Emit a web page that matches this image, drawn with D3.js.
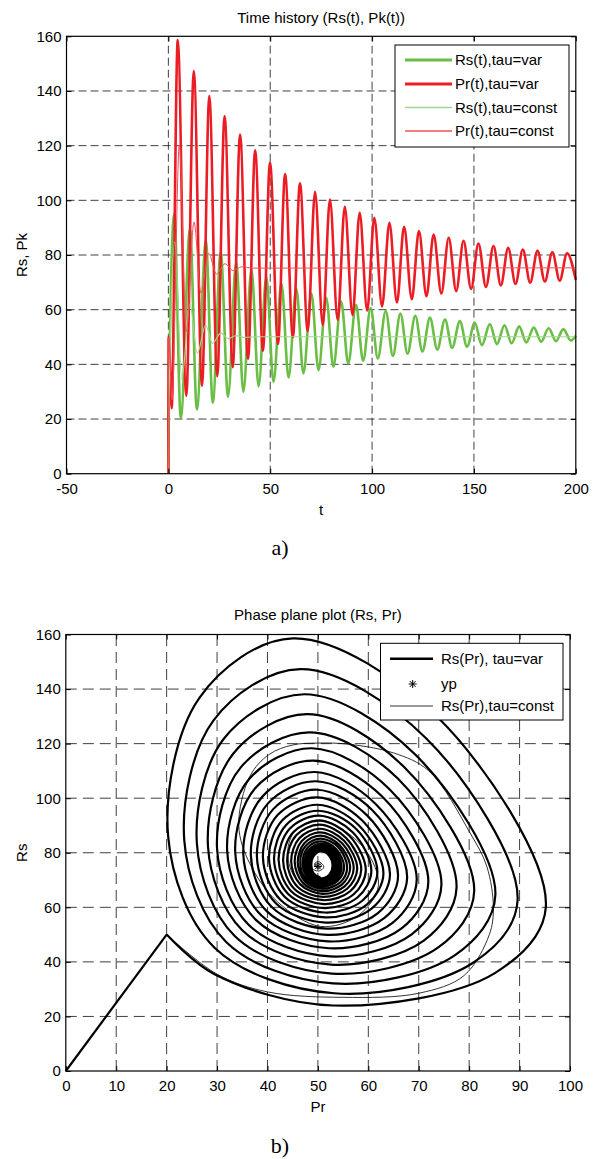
<!DOCTYPE html>
<html>
<head>
<meta charset="utf-8">
<script src="https://cdn.jsdelivr.net/npm/d3@7"></script>
<style>
body { margin: 0; background: #fff; }
</style>
</head>
<body>
<svg id="drawing_region" width="604" height="1159"></svg>
<script>
// ---------------- data ----------------
// a) time history, tau = var : one entry per oscillation cycle
var prTroughT = [1.6, 8.8, 16.5, 24.0, 31.6, 39.1, 46.4, 53.8, 61.1, 68.4, 75.8, 83.1, 90.4, 97.6, 104.9, 112.2, 119.5, 126.7, 134.0, 141.3, 148.6, 155.9, 163.2, 170.4, 177.6, 184.8, 192.1];
var prTroughV = [24.0, 28.5, 32.1, 35.7, 39.0, 42.0, 45.0, 47.5, 49.9, 52.2, 54.4, 56.3, 58.1, 59.7, 61.2, 62.6, 63.8, 64.9, 65.9, 66.8, 67.6, 68.3, 68.9, 69.4, 69.9, 70.3, 70.6];
var prPeakT = [4.6, 12.5, 20.1, 27.6, 35.2, 42.6, 49.9, 57.3, 64.6, 72.0, 79.3, 86.6, 93.9, 101.1, 108.5, 115.7, 123.0, 130.2, 137.6, 144.9, 152.2, 159.6, 166.8, 174.0, 181.2, 188.5, 195.7];
var prPeakV = [158.6, 147.3, 138.1, 130.8, 124.1, 118.3, 113.8, 109.6, 106.2, 103.1, 100.3, 97.6, 95.4, 93.6, 91.8, 90.3, 88.8, 87.5, 86.3, 85.2, 84.2, 83.3, 82.6, 82.0, 81.5, 81.0, 80.6];
var rsPeakT = [2.9, 10.6, 18.4, 25.7, 33.3, 40.8, 48.1, 55.5, 62.8, 70.2, 77.5, 84.8, 92.1, 99.3, 106.7, 113.9, 121.2, 128.4, 135.8, 143.1, 150.4, 157.8, 165.0, 172.2, 179.4, 186.7, 193.9];
var rsPeakV = [95.2, 89.6, 85.2, 81.0, 77.5, 74.5, 71.9, 69.6, 67.7, 65.9, 64.3, 63.0, 61.8, 60.6, 59.5, 58.6, 57.8, 57.1, 56.4, 55.8, 55.2, 54.7, 54.3, 53.9, 53.5, 53.2, 52.9];
var rsTroughT = [6.1, 14.0, 21.8, 29.3, 36.8, 44.3, 51.6, 59.0, 66.3, 73.7, 81.0, 88.3, 95.6, 102.8, 110.2, 117.4, 124.7, 132.0, 139.3, 146.6, 153.9, 161.3, 168.5, 175.7, 183.0, 190.3, 197.5];
var rsTroughV = [20.3, 23.5, 26.0, 28.2, 30.0, 32.0, 33.6, 35.2, 36.7, 37.9, 39.1, 40.3, 41.3, 42.2, 43.1, 43.9, 44.7, 45.4, 46.0, 46.5, 47.0, 47.4, 47.7, 48.0, 48.3, 48.5, 48.7];
// start jump and end of the var runs
var rsVarEdgeT = [0, 0.15, 200];
var rsVarEdgeV = [0, 20, 50.5];
var prVarEdgeT = [0, 0.15, 200];
var prVarEdgeV = [0, 50, 70.9];

// a) time history, tau = const
var rsConstT = [0, 0.15, 3.2, 6.6, 10.6, 14.2, 18.3, 21.6, 25.8, 29.3, 33.2, 37, 45, 200];
var rsConstV = [0, 20, 84.8, 34.6, 62, 44, 54.4, 47.7, 51.4, 49.4, 50.5, 49.9, 50.1, 50.1];
var prConstT = [0, 0.15, 1.8, 5.4, 8.8, 12.6, 16, 19.8, 23.6, 27.8, 31.8, 36, 41, 200];
var prConstV = [0, 50, 27, 120.2, 52, 92, 66, 80.6, 73, 76.8, 74.3, 75.7, 75.2, 75.3];

// b) phase plane, tau = var (x on "Pr" axis, y on "Rs" axis), per loop
var leadX = [29.5];
var leadY = [35.5];
var rsAtPrTrough = [53, 53.2, 53, 52.8, 52.6, 52.4, 52.2, 52, 51.8, 51.7, 51.6, 51.5, 51.4, 51.3, 51.2, 51.1, 51, 50.95, 50.9, 50.85, 50.8, 50.8, 50.75, 50.7, 50.7, 50.7, 50.7];
var prAtRsPeak = [60, 62.5, 64.5, 66, 67.3, 68.4, 69.4, 70.2, 70.9, 71.5, 72, 72.5, 72.9, 73.3, 73.6, 73.9, 74.1, 74.3, 74.5, 74.7, 74.8, 74.9, 75, 75.1, 75.2, 75.2, 75.3];
var rsAtPrPeak = [45, 46.5, 47.3, 47.9, 48.4, 48.8, 49.1, 49.4, 49.6, 49.8, 49.9, 50, 50.1, 50.2, 50.3, 50.3, 50.4, 50.4, 50.5, 50.5, 50.5, 50.6, 50.6, 50.6, 50.7, 50.7, 50.7];
var prAtRsTrough = [86, 84.5, 83.3, 82.3, 81.5, 80.8, 80.2, 79.6, 79.1, 78.7, 78.3, 78, 77.7, 77.4, 77.2, 77, 76.8, 76.6, 76.5, 76.4, 76.2, 76.1, 76, 75.9, 75.8, 75.8, 75.7];
var brX = [85.1, 80.7, 77.2, 73.8, 71.0, 68.6, 66.6, 64.8, 63.2, 61.9, 60.7, 59.7, 58.8, 57.9, 57.1, 56.4, 55.8, 55.3, 54.8, 54.4, 53.9, 53.6, 53.3, 53.0, 52.7, 52.5, 52.3];
var brY = [35.9, 39.6, 42.5, 45.2, 47.8, 50.1, 52.3, 54.3, 56.1, 57.9, 59.6, 61.0, 62.4, 63.7, 64.8, 65.9, 66.8, 67.7, 68.4, 69.1, 69.7, 70.2, 70.7, 71.1, 71.5, 71.7, 72.0];
var rtX = [74.1, 71.5, 69.3, 67.1, 65.9, 64.2, 62.8, 61.5, 60.8, 59.8, 58.8, 58.1, 57.6, 56.9, 56.2, 55.6, 55.2, 54.8, 54.3, 54.0, 53.6, 53.3, 53.0, 52.8, 52.5, 52.4, 52.2];
var rtY = [129.0, 121.9, 116.0, 111.4, 107.1, 103.3, 100.5, 97.8, 95.6, 93.6, 91.8, 90.1, 88.7, 87.5, 86.3, 85.4, 84.4, 83.5, 82.8, 82.1, 81.4, 80.8, 80.3, 79.9, 79.6, 79.3, 79.0];
var tlX = [26.5, 29.3, 31.3, 33.2, 34.7, 36.4, 37.6, 39.0, 40.1, 41.1, 42.0, 42.9, 43.7, 44.4, 45.1, 45.7, 46.3, 46.8, 47.3, 47.6, 48.0, 48.3, 48.5, 48.7, 49.0, 49.1, 49.3];
var tlY = [136.8, 128.5, 121.7, 116.3, 111.3, 107.1, 103.7, 100.6, 98.1, 95.9, 93.8, 91.8, 90.2, 88.8, 87.5, 86.4, 85.3, 84.3, 83.5, 82.6, 81.9, 81.2, 80.7, 80.2, 79.8, 79.5, 79.2];
var lbX = [29.5, 31.8, 33.5, 35.0, 36.3, 37.7, 38.8, 39.9, 40.9, 41.7, 42.6, 43.4, 44.1, 44.7, 45.3, 45.9, 46.5, 47.0, 47.4, 47.7, 48.1, 48.3, 48.5, 48.8, 49.0, 49.1, 49.2];
var lbY = [45.2, 47.3, 49.5, 51.6, 53.5, 55.4, 57.0, 58.5, 60.0, 61.4, 62.7, 63.9, 64.9, 65.9, 66.8, 67.6, 68.4, 69.0, 69.6, 70.2, 70.6, 71.0, 71.3, 71.6, 71.9, 72.1, 72.3];

// b) phase plane, tau = const
var constPhX = [20, 30, 40, 55, 70, 79, 84, 84.8, 83.5, 80.2, 72, 65, 56, 50, 45, 40.3, 36.5, 34.3, 36.5, 42, 50.5, 58, 62, 59, 50.5, 45.5, 44, 45.8, 50.5, 53.3, 54.4, 53, 50.3, 48.3, 47.7, 48.5, 50.2, 51.2, 50.1, 49.3, 50, 50.7, 50, 49.5, 49.95, 50.1];
var constPhY = [50, 35.5, 29, 27, 28.5, 35, 50, 60, 75, 87.2, 110, 116.6, 119.8, 120.2, 119.5, 116, 108, 90, 76, 62, 53, 57, 68, 82, 92, 88, 80, 70, 66, 68.5, 73, 78.5, 80.6, 79.5, 77, 74.5, 73.3, 74.8, 76.8, 75.8, 74.2, 75.2, 76.1, 75.4, 74.8, 75.3];
var ypX = [50];
var ypY = [75];

// ticks and labels
var xTicks1 = [-50, 0, 50, 100, 150, 200];
var xTicks2 = [0, 10, 20, 30, 40, 50, 60, 70, 80, 90, 100];
var yTicks = [0, 20, 40, 60, 80, 100, 120, 140, 160];
var legend1 = ['Rs(t),tau=var', 'Pr(t),tau=var', 'Rs(t),tau=const', 'Pr(t),tau=const'];
var legend2 = ['Rs(Pr), tau=var', 'yp', 'Rs(Pr),tau=const'];

// ---------------- drawing ----------------
var FONT = '"Liberation Sans", Arial, Helvetica, sans-serif';
var GREEN = '#6abd45', RED = '#ec1c24', LGREEN = '#a3d68c', LRED = '#f05050';

var svg = d3.select('#drawing_region');
svg.append('rect').attr('width', 604).attr('height', 1159).attr('fill', '#fff');

var box1 = {x0: 66.5, x1: 575.8, y0: 36.3, y1: 473.7};
var box2 = {x0: 65.8, x1: 570, y0: 634.5, y1: 1071};

const xscale1 = d3.scaleLinear().domain([-50, 200]).range([box1.x0, box1.x1]);
const yscale1 = d3.scaleLinear().domain([0, 160]).range([box1.y1, box1.y0]);
const xscale2 = d3.scaleLinear().domain([0, 100]).range([box2.x0, box2.x1]);
const yscale2 = d3.scaleLinear().domain([0, 160]).range([box2.y1, box2.y0]);

function grid(xs, ys, xt, yt, dash) {
    var g = svg.append('g').attr('stroke', '#2a2a2a').attr('stroke-width', 0.9).attr('stroke-dasharray', dash);
    g.selectAll('.v').data(xt.slice(1, -1)).join('line')
        .attr('x1', d => xs(d)).attr('x2', d => xs(d))
        .attr('y1', ys.range()[0]).attr('y2', ys.range()[1]);
    g.selectAll('.h').data(yt.slice(1, -1)).join('line')
        .attr('y1', d => ys(d)).attr('y2', d => ys(d))
        .attr('x1', xs.range()[0]).attr('x2', xs.range()[1]);
}

function axes(xs, ys, xt, yt, padX) {
    var b = ys.range()[0], t = ys.range()[1], l = xs.range()[0], r = xs.range()[1];
    var fmt = d => String(d);
    var style = g => { g.select('.domain').remove(); g.attr('font-size', 15).attr('font-family', FONT); };
    svg.append('g').attr('transform', `translate(0, ${b})`)
        .call(d3.axisBottom(xs).tickValues(xt).tickSizeInner(-5).tickSizeOuter(0).tickPadding(padX).tickFormat(fmt)).call(style);
    svg.append('g').attr('transform', `translate(0, ${t})`)
        .call(d3.axisTop(xs).tickValues(xt).tickSizeInner(-5).tickSizeOuter(0).tickFormat('')).call(style);
    svg.append('g').attr('transform', `translate(${l}, 0)`)
        .call(d3.axisLeft(ys).tickValues(yt).tickSizeInner(-5).tickSizeOuter(0).tickPadding(5).tickFormat(fmt)).call(style);
    svg.append('g').attr('transform', `translate(${r}, 0)`)
        .call(d3.axisRight(ys).tickValues(yt).tickSizeInner(-5).tickSizeOuter(0).tickFormat('')).call(style);
    svg.append('rect').attr('x', l).attr('y', t).attr('width', r - l).attr('height', b - t)
        .attr('fill', 'none').attr('stroke', '#000').attr('stroke-width', 1.2);
}

function label(x, y, txt, rot) {
    svg.append('text').attr('transform', `translate(${x}, ${y})` + (rot ? ' rotate(-90)' : ''))
        .attr('text-anchor', 'middle').attr('font-family', FONT).attr('font-size', 15).text(txt);
}

// merge knots of one time series, sorted by time
function knots(tArrs, vArrs) {
    var pts = [];
    tArrs.forEach((ta, i) => ta.forEach((t, j) => pts.push([t, vArrs[i][j]])));
    return pts.sort((a, b) => a[0] - b[0]);
}

// ---- chart a) ----
grid(xscale1, yscale1, xTicks1, yTicks, '8,4');

var rsVar = knots([rsVarEdgeT, rsPeakT, rsTroughT], [rsVarEdgeV, rsPeakV, rsTroughV]);
var prVar = knots([prVarEdgeT, prPeakT, prTroughT], [prVarEdgeV, prPeakV, prTroughV]);
var rsConst = knots([rsConstT], [rsConstV]);
var prConst = knots([prConstT], [prConstV]);

const line1 = d3.line().x(d => xscale1(d[0])).y(d => yscale1(d[1])).curve(d3.curveMonotoneX);
var series1 = [
    {data: rsVar, color: GREEN, w: 2.6},
    {data: prVar, color: RED, w: 2.6},
    {data: rsConst, color: LGREEN, w: 1.2},
    {data: prConst, color: LRED, w: 1.0}
];
svg.append('g').selectAll('path').data(series1).join('path')
    .attr('d', d => line1(d.data)).attr('fill', 'none')
    .attr('stroke', d => d.color).attr('stroke-width', d => d.w).attr('stroke-linejoin', 'round');

axes(xscale1, yscale1, xTicks1, yTicks, 9.6);
label((box1.x0 + box1.x1) / 2, 22.5, 'Time history (Rs(t), Pk(t))');
label((box1.x0 + box1.x1) / 2, 515, 't');
label(26.5, (box1.y0 + box1.y1) / 2, 'Rs, Pk', true);

var lg1 = svg.append('g');
lg1.append('rect').attr('x', 395).attr('y', 45).attr('width', 174).attr('height', 102)
    .attr('fill', '#fff').attr('stroke', '#000').attr('stroke-width', 1);
legend1.forEach((txt, i) => {
    var y = [60, 84, 107.5, 131][i];
    lg1.append('line').attr('x1', 405).attr('x2', 452).attr('y1', y).attr('y2', y)
        .attr('stroke', series1[i].color).attr('stroke-width', series1[i].w + 0.3);
    lg1.append('text').attr('x', 455).attr('y', y).attr('dy', '0.35em')
        .attr('font-family', FONT).attr('font-size', 15).text(txt);
});

svg.append('text').attr('x', 280).attr('y', 555).attr('text-anchor', 'middle')
    .attr('font-family', '"Liberation Serif", "Times New Roman", serif').attr('font-size', 22).text('a)');

// ---- chart b) ----
grid(xscale2, yscale2, xTicks2, yTicks, '11,6');

var spiral = [[rsVarEdgeV[1], prVarEdgeV[1]]];
leadX.forEach((x, i) => spiral.push([x, leadY[i]]));
prTroughV.forEach((by, k) => {
    spiral.push([rsAtPrTrough[k], by]);
    spiral.push([brX[k], brY[k]]);
    spiral.push([rsPeakV[k], prAtRsPeak[k]]);
    spiral.push([rtX[k], rtY[k]]);
    spiral.push([rsAtPrPeak[k], prPeakV[k]]);
    spiral.push([tlX[k], tlY[k]]);
    spiral.push([rsTroughV[k], prAtRsTrough[k]]);
    spiral.push([lbX[k], lbY[k]]);
});
spiral.push([rsVarEdgeV[2], prVarEdgeV[2]]);
var lead = [[rsVarEdgeV[0], prVarEdgeV[0]], [rsVarEdgeV[1], prVarEdgeV[1]]];
var constPh = constPhX.map((x, i) => [x, constPhY[i]]);

const line2 = d3.line().x(d => xscale2(d[0])).y(d => yscale2(d[1])).curve(d3.curveCatmullRom.alpha(0.5));
const line2lin = d3.line().x(d => xscale2(d[0])).y(d => yscale2(d[1]));
var g2 = svg.append('g').attr('fill', 'none').attr('stroke', '#000').attr('stroke-linejoin', 'round');
g2.append('path').attr('d', line2lin(lead)).attr('stroke-width', 2.2);
g2.append('path').attr('d', line2(spiral)).attr('stroke-width', 2.2);
g2.append('path').attr('d', line2(constPh)).attr('stroke-width', 0.8);

function star(x, y, r) {
    var a = r * 0.72;
    return `M${x - r},${y}L${x + r},${y}M${x},${y - r}L${x},${y + r}` +
        `M${x - a},${y - a}L${x + a},${y + a}M${x - a},${y + a}L${x + a},${y - a}`;
}
svg.append('g').selectAll('path').data(ypX).join('path')
    .attr('d', (d, i) => star(xscale2(d), yscale2(ypY[i]), 4))
    .attr('stroke', '#000').attr('stroke-width', 1).attr('fill', 'none');

axes(xscale2, yscale2, xTicks2, yTicks, 9.4);
label((box2.x0 + box2.x1) / 2, 620, 'Phase plane plot (Rs, Pr)');
label((box2.x0 + box2.x1) / 2, 1111.5, 'Pr');
label(26.5, (box2.y0 + box2.y1) / 2, 'Rs', true);

var lg2 = svg.append('g');
lg2.append('rect').attr('x', 380.5).attr('y', 643.3).attr('width', 182.5).attr('height', 76.7)
    .attr('fill', '#fff').attr('stroke', '#000').attr('stroke-width', 1);
legend2.forEach((txt, i) => {
    var y = [658.7, 684, 706][i];
    if (i == 0) lg2.append('line').attr('x1', 390).attr('x2', 433).attr('y1', y).attr('y2', y).attr('stroke', '#000').attr('stroke-width', 2.4);
    if (i == 1) lg2.append('path').attr('d', star(412.7, y, 4)).attr('stroke', '#000').attr('stroke-width', 1);
    if (i == 2) lg2.append('line').attr('x1', 390).attr('x2', 433).attr('y1', y).attr('y2', y).attr('stroke', '#000').attr('stroke-width', 0.8);
    lg2.append('text').attr('x', 441).attr('y', y).attr('dy', '0.35em')
        .attr('font-family', FONT).attr('font-size', 15).text(txt);
});

svg.append('text').attr('x', 280).attr('y', 1153).attr('text-anchor', 'middle')
    .attr('font-family', '"Liberation Serif", "Times New Roman", serif').attr('font-size', 22).text('b)');
</script>
</body>
</html>
